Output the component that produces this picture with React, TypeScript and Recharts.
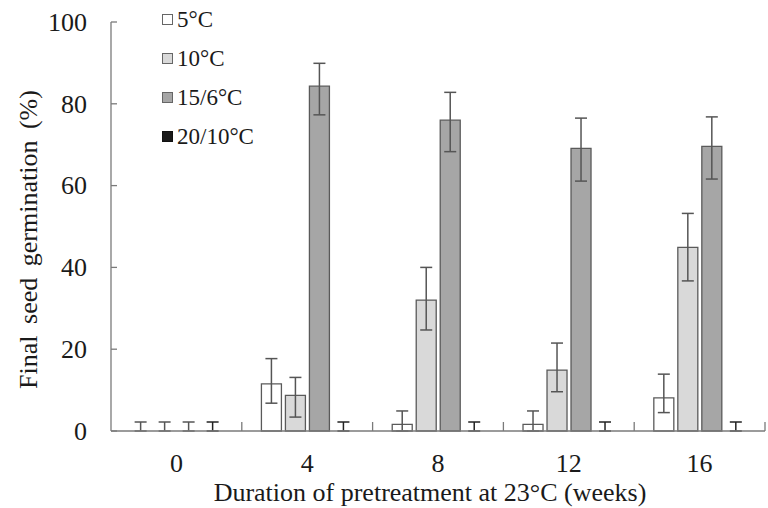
import React from 'react';
import { BarChart, Bar, XAxis, YAxis, ErrorBar, Legend, Rectangle } from 'recharts';

const categories = ['0', '4', '8', '12', '16'];
const mean5 = [0, 11.5, 1.6, 1.6, 8.1];
const err5 = [[0, 2.2], [4.7, 6.2], [1.6, 3.3], [1.6, 3.3], [3.6, 5.8]];
const mean10 = [0, 8.7, 32, 14.9, 44.9];
const err10 = [[0, 2.2], [5.3, 4.4], [7.3, 8], [5.3, 6.6], [8.2, 8.3]];
const mean15 = [0, 84.3, 76, 69.1, 69.6];
const err15 = [[0, 2.2], [7, 5.6], [7.7, 6.8], [8, 7.4], [8, 7.2]];
const mean20 = [0, 0, 0, 0, 0];
const err20 = [[0, 2.2], [0, 2.2], [0, 2.2], [0, 2.2], [0, 2.2]];
const yTicks = [0, 20, 40, 60, 80, 100];
const seriesNames = ['5°C', '10°C', '15/6°C', '20/10°C'];
const seriesColors = ['#ffffff', '#d9d9d9', '#a6a6a6', '#1a1a1a'];
const seriesKeys = ['s5', 's10', 's15', 's20'];
const errKeys = ['e5', 'e10', 'e15', 'e20'];

const data = categories.map((c, i) => ({
  week: c,
  s5: mean5[i], e5: err5[i],
  s10: mean10[i], e10: err10[i],
  s15: mean15[i], e15: err15[i],
  s20: mean20[i], e20: err20[i],
}));

const FONT = '"Liberation Serif", "Times New Roman", serif';
const TEXT = '#1a1a1a';
const AXIS = '#7a7a7a';

const XTick = (props: any) => {
  const { x, y, payload } = props;
  const off = payload && typeof payload.offset === 'number' ? payload.offset : 65.4;
  return (
    <g>
      <line x1={x + off} x2={x + off} y1={y} y2={y - 9} stroke={AXIS} strokeWidth={1.3} />
      <text x={x} y={y + 41} textAnchor="middle" fontSize={26} fontFamily={FONT} fill={TEXT}>
        {payload.value}
      </text>
    </g>
  );
};

const YTick = (props: any) => {
  const { x, y, payload } = props;
  return (
    <g>
      <line x1={x} x2={x + 6} y1={y} y2={y} stroke={AXIS} strokeWidth={1.3} />
      <text x={x - 24} y={y} dy="0.34em" textAnchor="end" fontSize={26} fontFamily={FONT} fill={TEXT}>
        {payload.value}
      </text>
    </g>
  );
};

const YLabel = (props: any) => {
  const vb = props.viewBox || { x: 51, y: 22, width: 60, height: 409 };
  const cx = vb.x - 14;
  const cy = vb.y + vb.height / 2 + 13;
  return (
    <text x={cx} y={cy} transform={`rotate(-90, ${cx}, ${cy})`} textAnchor="middle"
      fontSize={26} fontFamily={FONT} fill={TEXT} style={{ wordSpacing: 5 }}>
      Final seed germination (%)
    </text>
  );
};

const XLabel = (props: any) => {
  const vb = props.viewBox || { x: 111, y: 431, width: 654, height: 30 };
  const cx = vb.x + vb.width / 2 - 8;
  const cy = vb.y + 70;
  return (
    <text x={cx} y={cy} textAnchor="middle" fontSize={26} fontFamily={FONT} fill={TEXT}>
      Duration of pretreatment at 23°C (weeks)
    </text>
  );
};

const LegendContent = () => (
  <div style={{ fontFamily: FONT, fontSize: 23, color: TEXT }}>
    {seriesNames.map((n, i) => (
      <div key={n} style={{ height: 39, display: 'flex', alignItems: 'center', whiteSpace: 'nowrap' }}>
        <span style={{
          display: 'inline-block', width: 9, height: 9, background: seriesColors[i],
          border: `1px solid ${i === 3 ? '#111' : '#666'}`, marginRight: 4,
        }} />
        <span>{n}</span>
      </div>
    ))}
  </div>
);

const makeShape = (key: string) => (p: any) => {
  if (!p.payload || p.payload[key] === 0) return <g />;
  return <Rectangle {...p} />;
};

export default function App() {
  return (
    <div style={{ position: 'absolute', left: 0, top: 0, background: '#fff' }}>
      <BarChart width={768} height={508} data={data}
        margin={{ top: 22, right: 3, bottom: 47, left: 51 }}
        barCategoryGap="15%" barGap={4}>
        <XAxis dataKey="week" type="category" height={30} tickSize={0} tickMargin={0}
          tickLine={false} axisLine={{ stroke: AXIS, strokeWidth: 1.3 }}
          tick={<XTick />} interval={0} label={<XLabel />} />
        <YAxis type="number" domain={[0, 100]} ticks={yTicks} width={60} tickSize={0} tickMargin={0}
          tickLine={false} axisLine={{ stroke: AXIS, strokeWidth: 1.3 }}
          tick={<YTick />} interval={0} label={<YLabel />} />
        <Legend layout="vertical" align="center" verticalAlign="middle"
          wrapperStyle={{ left: 162, top: 0, width: 'auto', height: 'auto' }}
          content={<LegendContent />} />
        {seriesKeys.map((k, i) => (
          <Bar key={k} dataKey={k} name={seriesNames[i]} fill={seriesColors[i]}
            stroke={i === 3 ? '#111' : '#5a5a5a'} strokeWidth={1.3} isAnimationActive={false}
            minPointSize={1} shape={makeShape(k)}>
            <ErrorBar dataKey={errKeys[i]} width={6} stroke={i === 3 ? '#222' : '#555'} strokeWidth={1.5}
              isAnimationActive={false} />
          </Bar>
        ))}
      </BarChart>
    </div>
  );
}
